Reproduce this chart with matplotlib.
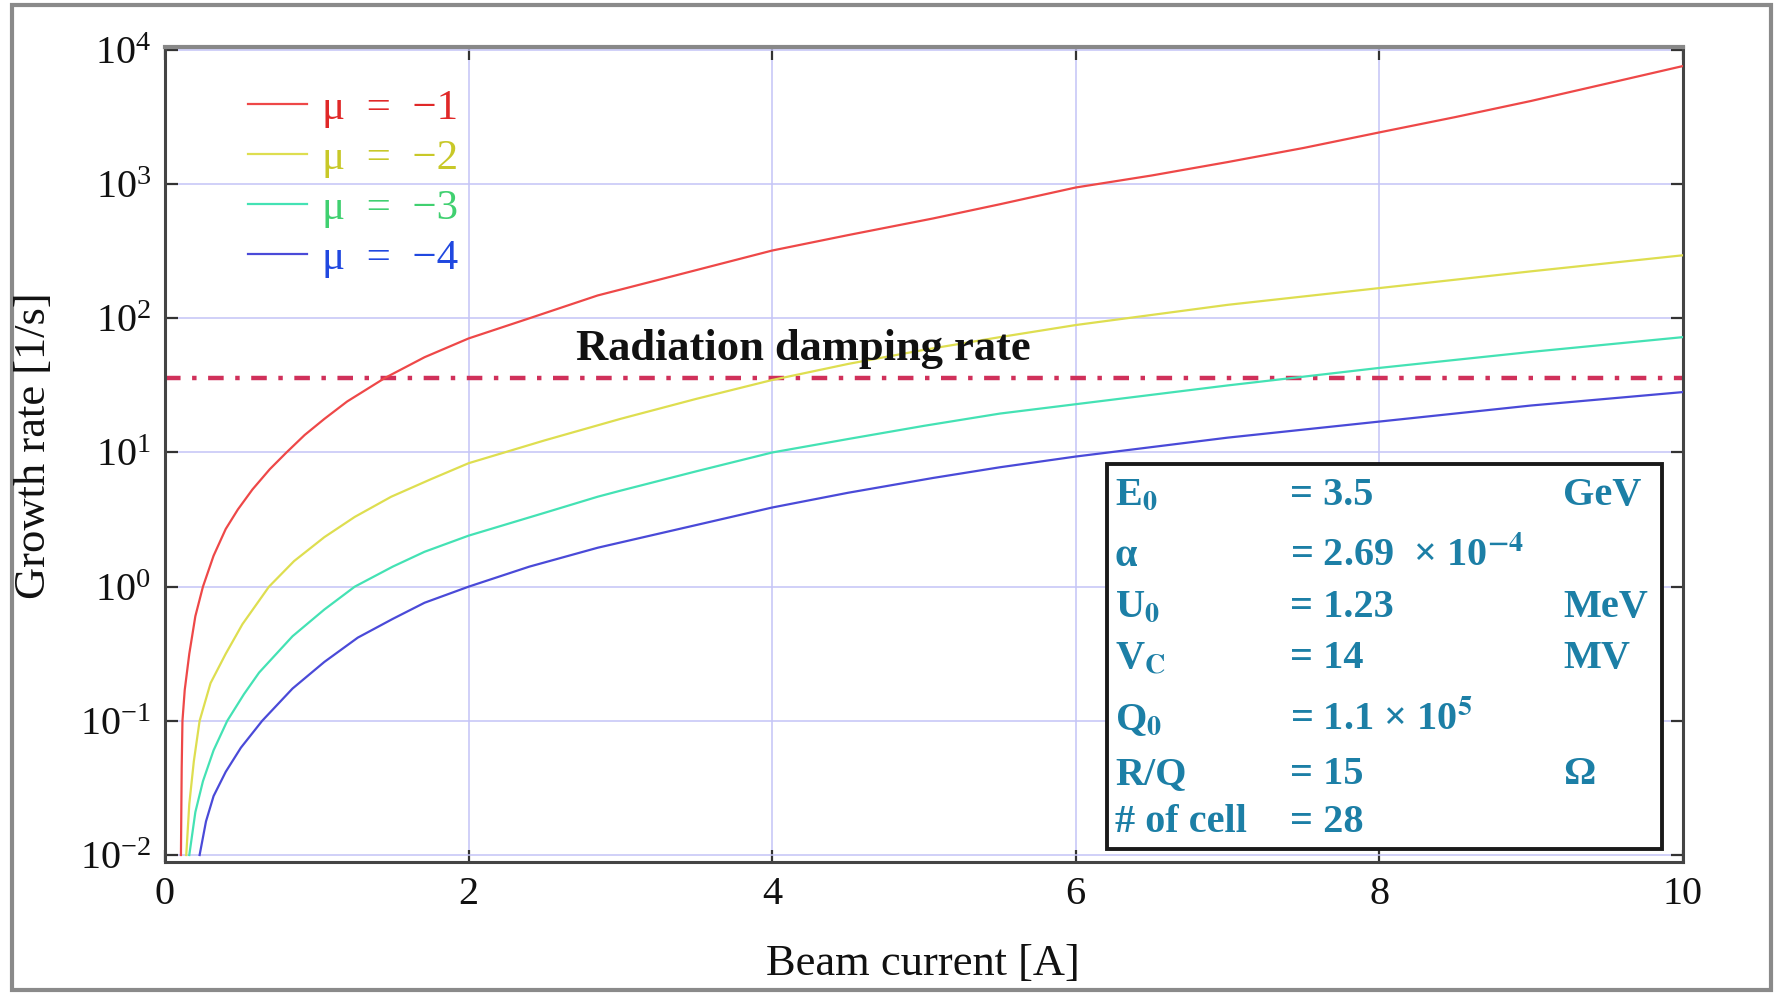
import matplotlib
matplotlib.use('Agg')
import matplotlib.pyplot as plt
from matplotlib.patches import Rectangle

plt.rcParams['font.family'] = ['Liberation Serif', 'DejaVu Serif']
plt.rcParams['mathtext.fontset'] = 'stix'

# ---------------- data ----------------
red_x = [0.105, 0.11, 0.115, 0.13, 0.16, 0.2, 0.25, 0.32, 0.4, 0.48, 0.576, 0.69, 0.8, 0.92,
         1.05, 1.2, 1.45, 1.71, 2.0, 2.4, 2.85, 3.3, 4.0, 4.5, 5.06, 5.5, 6.0, 6.5, 7.0,
         7.5, 8.0, 8.5, 9.0, 9.5, 10.0]
red_y = [0.01, 0.0447, 0.1, 0.17, 0.316, 0.603, 1.0, 1.70, 2.69, 3.76, 5.30, 7.50, 10, 13.5,
         17.8, 24.0, 36.0, 51.3, 70.8, 100, 148, 200, 320, 417, 555, 708, 944, 1160, 1460,
         1860, 2430, 3160, 4170, 5620, 7590]

yellow_x = [0.14, 0.16, 0.19, 0.228, 0.3, 0.4, 0.51, 0.685, 0.85, 1.05, 1.25, 1.49, 1.75,
            2.0, 2.5, 3.0, 3.5, 4.0, 4.5, 5.0, 5.5, 6.0, 7.0, 8.0, 9.0, 10.0]
yellow_y = [0.01, 0.024, 0.050, 0.1, 0.191, 0.316, 0.525, 1.0, 1.55, 2.34, 3.31, 4.68, 6.31,
            8.32, 12.3, 17.8, 25.1, 34.7, 45.7, 58.2, 72.4, 89.1, 126, 168, 224, 295]

green_x = [0.16, 0.2, 0.25, 0.32, 0.41, 0.52, 0.62, 0.84, 1.05, 1.25, 1.5, 1.71, 2.0, 2.5,
           2.85, 3.0, 3.5, 4.0, 4.5, 5.0, 5.5, 6.0, 7.0, 8.0, 9.0, 10.0]
green_y = [0.01, 0.0209, 0.0355, 0.0603, 0.1, 0.158, 0.229, 0.427, 0.676, 1.0, 1.41, 1.82,
           2.40, 3.55, 4.68, 5.19, 7.24, 10, 12.6, 15.8, 19.5, 22.9, 31.6, 42.7, 56.2, 72.4]

blue_x = [0.228, 0.27, 0.32, 0.4, 0.5, 0.64, 0.84, 1.05, 1.27, 1.5, 1.71, 2.0, 2.4, 2.85,
          3.5, 4.0, 4.5, 5.06, 5.5, 6.0, 7.0, 8.0, 9.0, 10.0]
blue_y = [0.01, 0.0178, 0.0275, 0.0417, 0.0631, 0.1, 0.174, 0.275, 0.417, 0.575, 0.759, 1.0,
          1.41, 1.95, 2.88, 3.89, 5.01, 6.46, 7.76, 9.33, 12.9, 17.0, 22.4, 28.2]

damping_rate = 36

legend_labels = ['μ  =  −1', 'μ  =  −2', 'μ  =  −3', 'μ  =  −4']
line_colors = ['#ee4848', '#dede50', '#44e2b4', '#4a4ad8']
label_colors = ['#e02828', '#c8c828', '#40d070', '#2048e0']

x_ticks = [0, 2, 4, 6, 8, 10]
y_ticks = [1e-2, 1e-1, 1e0, 1e1, 1e2, 1e3, 1e4]

param_names = ['E$_\\mathbf{0}$', 'α', 'U$_\\mathbf{0}$', 'V$_\\mathbf{C}$', 'Q$_\\mathbf{0}$',
               'R/Q', '# of cell']
param_values = ['= 3.5', '= 2.69  × 10$^{\\mathbf{-4}}$', '= 1.23', '= 14',
                '= 1.1 × 10$^{\\mathbf{5}}$', '= 15', '= 28']
param_units = ['GeV', '', 'MeV', 'MV', '', 'Ω', '']

# ---------------- figure ----------------
W, H = 1775, 993
fig = plt.figure(figsize=(W / 100, H / 100), dpi=100)
fig.patch.set_facecolor('white')

ax_l, ax_r, ax_t, ax_b = 165, 1683, 47, 862
ax = fig.add_axes([ax_l / W, 1 - ax_b / H, (ax_r - ax_l) / W, (ax_b - ax_t) / H])

series = [(red_x, red_y), (yellow_x, yellow_y), (green_x, green_y), (blue_x, blue_y)]
for (xs, ys), c, lab in zip(series, line_colors, legend_labels):
    ax.plot(xs, ys, color=c, lw=1.6, label=lab, zorder=3)

ax.axhline(damping_rate, color='#d0305a', lw=3.2, linestyle=(0, (3.5, 2.6, 1.0, 2.6)), zorder=2)

ax.set_yscale('log')
ax.set_xlim(0, 10)
ax.set_ylim(10 ** -2.052, 10 ** 4.022)
ax.set_xticks(x_ticks)
ax.set_xticklabels([str(v) for v in x_ticks])
ax.set_yticks(y_ticks)
ax.yaxis.set_minor_locator(matplotlib.ticker.NullLocator())
ax.grid(True, which='major', color='#c4c4f6', lw=1.1, zorder=0)
ax.set_axisbelow(True)

ax.tick_params(axis='both', which='major', direction='in', length=9, width=1.6,
               top=True, right=True, labelsize=29, pad=10, colors='#333333',
               labelcolor='#111111')
for s in ['left', 'bottom', 'right']:
    ax.spines[s].set_color('#444444')
    ax.spines[s].set_linewidth(2.2)
ax.spines['top'].set_color('#888888')
ax.spines['top'].set_linewidth(3)

# axis labels
fig.text(923 / W, 1 - 964 / H, 'Beam current [A]', fontsize=32, ha='center', va='center',
         color='#111111')
fig.text(34 / W, 1 - 446 / H, 'Growth rate [1/s]', fontsize=32, ha='center', va='center',
         rotation=90, color='#111111')

# legend
leg = ax.legend(loc='upper left', bbox_to_anchor=(0.0406, 0.975), frameon=False, fontsize=31,
                handlelength=1.37, handletextpad=0.35, labelspacing=0.25, borderpad=0)
for t, c in zip(leg.get_texts(), label_colors):
    t.set_color(c)

# radiation damping label
ax.text(2.71, 49, 'Radiation damping rate', fontsize=32, fontweight='bold',
        va='baseline', ha='left', color='#111111', zorder=4)

# parameter box
def axx(px):
    return (px - ax_l) / (ax_r - ax_l)

def axy(py):
    return (ax_b - py) / (ax_b - ax_t)

box = Rectangle((axx(1107), axy(849)), axx(1662) - axx(1107), axy(464) - axy(849),
                transform=ax.transAxes, facecolor='white', edgecolor='#1a1a1a', lw=2.8,
                zorder=5)
ax.add_patch(box)

baselines = [505, 566, 617, 668, 730, 784, 832]
teal = '#1c7fa6'
for name, val, unit, b in zip(param_names, param_values, param_units, baselines):
    ax.text(axx(1115), axy(b), name, transform=ax.transAxes, fontsize=29, fontweight='bold',
            color=teal, va='baseline', ha='left', zorder=6)
    ax.text(axx(1290), axy(b), val, transform=ax.transAxes, fontsize=29, fontweight='bold',
            color=teal, va='baseline', ha='left', zorder=6)
    if unit:
        ax.text(axx(1563), axy(b), unit, transform=ax.transAxes, fontsize=29,
                fontweight='bold', color=teal, va='baseline', ha='left', zorder=6)

# outer border of the picture
fig.patches.append(Rectangle((12 / W, 1 - 990 / H), (1771 - 12) / W, (990 - 5) / H,
                             transform=fig.transFigure, fill=False, edgecolor='#8a8a8a',
                             lw=3, zorder=0))

fig.savefig('out.png', dpi=100)
